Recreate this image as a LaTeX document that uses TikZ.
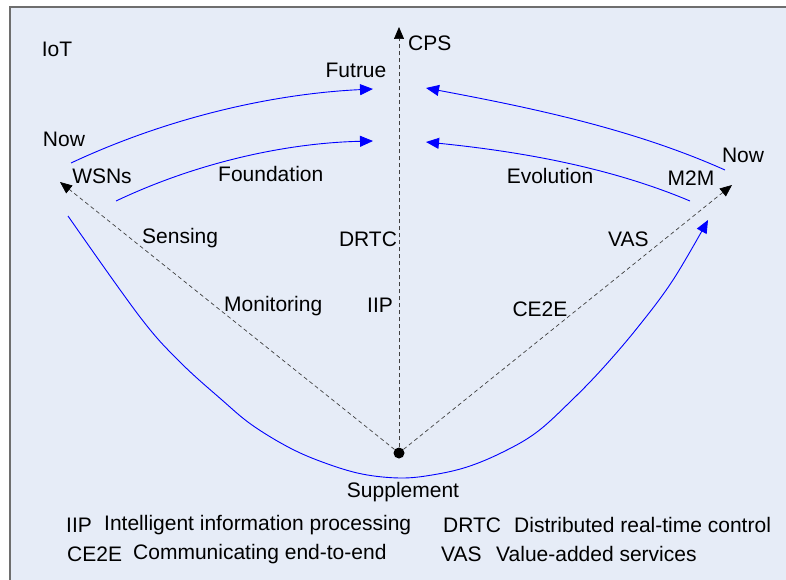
\documentclass[tikz,border=0pt]{standalone}
\usepackage{fontspec}
\setmainfont{Liberation Sans}
\usetikzlibrary{arrows.meta}
\definecolor{panel}{RGB}{230,236,247}
\definecolor{framegray}{RGB}{110,110,110}
\definecolor{flowblue}{RGB}{0,0,255}
\tikzset{
  lbl/.style={inner sep=0pt, font=\fontsize{21}{25}\selectfont},
  flow/.style={draw=flowblue, line width=0.9pt, -{Triangle[length=13pt,width=11pt]}, color=flowblue},
  axis/.style={draw=black!75, line width=0.7pt, dash pattern=on 4pt off 3pt, -{Triangle[length=12pt,width=10pt,color=black]}},
}
\begin{document}
\begin{tikzpicture}[x=1pt,y=-1pt]
\useasboundingbox (0,0) rectangle (786,580);
\clip (0,0) rectangle (786,580);
% panel
\draw[fill=panel, draw=framegray, line width=1.5pt] (10,7) rectangle (800,600);

% centre point and axis ends
\node[circle, fill=black, inner sep=0pt, minimum size=11pt] (sup) at (399,453) {};
\coordinate (cps) at (399,27);
\coordinate (wsn) at (60,182);
\coordinate (m2m) at (732,185);
\draw[axis] (sup) -- (cps);
\draw[axis] (sup) -- (wsn);
\draw[axis] (sup) -- (m2m);

% blue flows towards CPS
\coordinate (ulA) at (71,163);  \coordinate (ulB) at (373,89);
\coordinate (llA) at (116,201); \coordinate (llB) at (373,141);
\coordinate (urA) at (725,170); \coordinate (urB) at (426,88);
\coordinate (lrA) at (690,201); \coordinate (lrB) at (426,142);
\draw[flow] (ulA) .. controls (165,119) and (269,94) .. (ulB);
\draw[flow] (llA) .. controls (196,163) and (285,143) .. (llB);
\draw[flow] (urA) .. controls (631,128) and (527,107) .. (urB);
\draw[flow] (lrA) .. controls (607,166) and (515,151) .. (lrB);

% supplement curve
\draw[flow] plot[smooth, tension=0.6] coordinates {(68,216) (140,317) (180,362) (222,400) (252,425) (290,448) (325,463) (362,474) (400,478) (432,475) (467,467) (503,452) (537,432) (572,400) (603,368) (638,327) (673,280) (708,220)};

% labels
\node[lbl, anchor=west] (cpsl) at (408,43) {CPS};
\node[lbl] (iot) at (57,49) {IoT};
\node[lbl] (futrue) at (356,70) {Futrue};
\node[lbl] (nowl) at (64,139) {Now};
\node[lbl] (nowr) at (743,155) {Now};
\node[lbl] (wsns) at (102,176) {WSNs};
\node[lbl, anchor=west] (found) at (218,174) {Foundation};
\node[lbl] (evol) at (550,176) {Evolution};
\node[lbl] (m2ml) at (691,178) {M2M};
\node[lbl, anchor=west] (sens) at (142,238) {Sensing};
\node[lbl] (drtc) at (368,239) {DRTC};
\node[lbl, anchor=west] (vas) at (608,239) {VAS};
\node[lbl, anchor=west] (mon) at (224,306) {Monitoring};
\node[lbl] (iip) at (380,305) {IIP};
\node[lbl] (ce2e) at (540,309) {CE2E};
\node[lbl] (supl) at (403,492) {Supplement};

% legend
\node[lbl, anchor=west] (k1) at (66,525) {IIP};
\node[lbl, anchor=west] (v1) at (104,525) {Intelligent information processing};
\node[lbl, anchor=west] (k2) at (443,525) {DRTC};
\node[lbl, anchor=west] (v2) at (514,525) {Distributed real-time control};
\node[lbl, anchor=west] (k3) at (67,554) {CE2E};
\node[lbl, anchor=west] (v3) at (133,554) {Communicating end-to-end};
\node[lbl, anchor=west] (k4) at (441,554) {VAS};
\node[lbl, anchor=west] (v4) at (496,554) {Value-added services};
\end{tikzpicture}
\end{document}
